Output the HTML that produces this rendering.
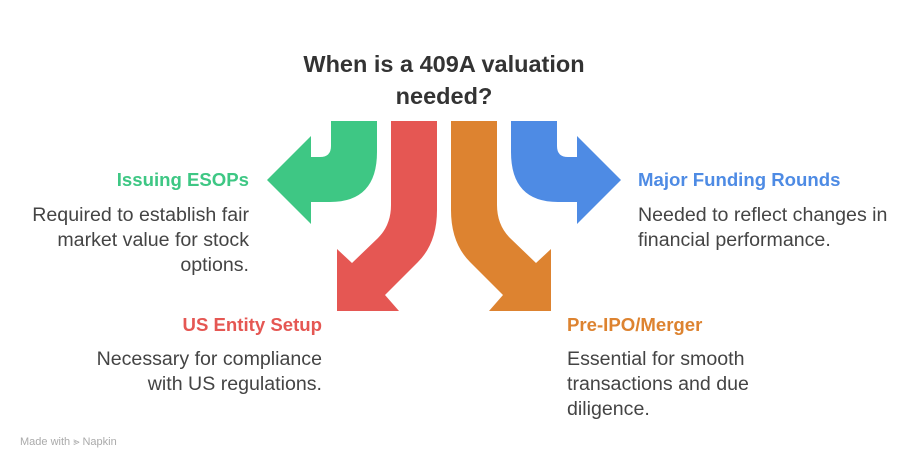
<!DOCTYPE html>
<html><head><meta charset="utf-8"><style>
body{margin:0;width:924px;height:468px;background:#fff;position:relative;overflow:hidden;font-family:"Liberation Sans",Arial,sans-serif}
.t{position:absolute;white-space:nowrap}
.h{font-weight:bold;font-size:18.6px}
.b{font-size:19.6px;color:#444;line-height:25px}
.r{text-align:right}
</style></head><body>
<div class="t" style="left:244px;width:400px;top:48px;text-align:center;font-weight:bold;font-size:23.5px;color:#333;line-height:32px">When is a 409A valuation<br>needed?</div>
<svg width="924" height="468" style="position:absolute;left:0;top:0">
<path d="M331,121 L331,146 Q331,157 320,157 L311,157 L311,136 L267,180 L311,224 L311,202 L330,202 Q377,202 377,152 L377,121Z" fill="#3ec784"/>
<path d="M557,121 L557,146 Q557,157 568,157 L577,157 L577,136 L621,180 L577,224 L577,202 L558,202 Q511,202 511,152 L511,121Z" fill="#4e8be4"/>
<path d="M391,121 L391,205 Q391,225 378,238 L352,263 L337,249 L337,311 L399,311 L385,295 L418,262 Q437,243 437,210 L437,121Z" fill="#e55753"/>
<path d="M497,121 L497,205 Q497,225 510,238 L536,263 L551,249 L551,311 L489,311 L503,295 L470,262 Q451,243 451,210 L451,121Z" fill="#dd8330"/>
</svg>
<div class="t h r" style="right:675px;top:169px;color:#3ec784">Issuing ESOPs</div>
<div class="t b r" style="right:675px;top:203px">Required to establish fair<br>market value for stock<br>options.</div>
<div class="t h" style="left:638px;top:169px;color:#4e8be4">Major Funding Rounds</div>
<div class="t b" style="left:638px;top:203px">Needed to reflect changes in<br>financial performance.</div>
<div class="t h r" style="right:602px;top:314px;color:#e55753">US Entity Setup</div>
<div class="t b r" style="right:602px;top:347px">Necessary for compliance<br>with US regulations.</div>
<div class="t h" style="left:567px;top:314px;color:#dd8330">Pre-IPO/Merger</div>
<div class="t b" style="left:567px;top:347px">Essential for smooth<br>transactions and due<br>diligence.</div>
<div class="t" style="left:20px;top:436px;font-size:11px;color:#aaa">Made with ⪢ Napkin</div>
</body></html>
